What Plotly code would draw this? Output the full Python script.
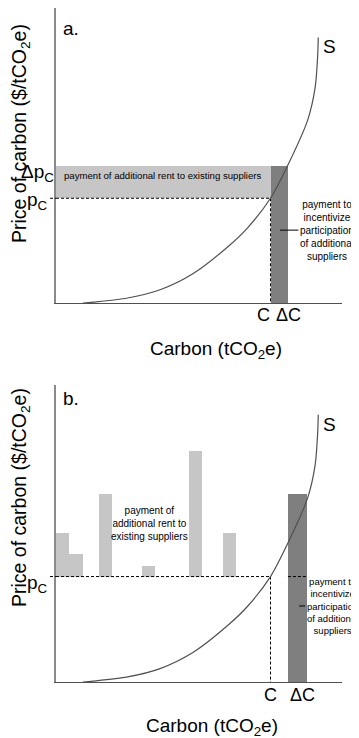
import plotly.graph_objects as go

# page is 359x738; the browser's default 8px body margin offsets the figure
OFF = 8
PW, PH = 359, 738
W, H = PW - OFF, PH - OFF

# ---- data (axis units 0-100 on both axes) ----
# supply curve S, same shape in both panels
curve_x = [9.4, 13, 25, 36.4, 48, 60, 67, 75, 81, 88, 90.6, 91.5, 91.7]
curve_y = [0, 0.3, 1.7, 4.5, 10, 19, 25.5, 35.5, 46.6, 62, 73, 84, 90]

C = 75          # carbon supplied at price pc
dC = 6.1        # additional carbon (panel a)
pc = 35.5       # carbon price
dpc = 11.1      # price increase (panel a)

# panel b: heterogeneous rent paid to existing suppliers
rent_left = [0, 4.5, 15.0, 30.1, 46.5, 58.4]
rent_right = [4.5, 9.4, 19.6, 34.6, 51.0, 62.9]
rent_top = [50.2, 43.1, 63.3, 39.1, 77.8, 50.2]
add_left_b, add_right_b, add_top_b = 81.1, 87.8, 63.3

x_tick_text = ["C", "ΔC"]

LIGHT = "#c6c6c6"
DARK = "#7f7f7f"
CURVE = "#505050"
FONT = "Liberation Sans, Arial, sans-serif"
NARROW = "Liberation Sans Narrow, Liberation Sans, Arial, sans-serif"


def fx(x):
    return min(1.0, max(0.0, (x - OFF) / W))


def fy(y):
    return min(1.0, max(0.0, 1 - (y - OFF) / H))


fig = go.Figure()

# ---------- panel a ----------
fig.add_trace(go.Bar(x=[C / 2], y=[dpc], base=[pc], width=[C], marker=dict(color=LIGHT, line=dict(width=0)),
                     xaxis="x", yaxis="y", opacity=1))
fig.add_trace(go.Bar(x=[C + dC / 2], y=[pc + dpc], base=[0], width=[dC], marker=dict(color=DARK, line=dict(width=0)),
                     xaxis="x", yaxis="y", opacity=1))
fig.add_trace(go.Scatter(x=[0, C, None, C, C], y=[pc, pc, None, pc, 0], mode="lines",
                         line=dict(color="black", width=1, dash="3px,2px"), xaxis="x", yaxis="y"))
fig.add_trace(go.Scatter(x=curve_x, y=curve_y, mode="lines",
                         line=dict(color=CURVE, width=1.2, shape="spline", smoothing=0.8),
                         xaxis="x", yaxis="y"))

# ---------- panel b ----------
fig.add_trace(go.Bar(x=[(l + r) / 2 for l, r in zip(rent_left, rent_right)],
                     y=[t - pc for t in rent_top], base=[pc] * len(rent_top),
                     width=[r - l for l, r in zip(rent_left, rent_right)],
                     marker=dict(color=LIGHT, line=dict(width=0)), xaxis="x2", yaxis="y2", opacity=1))
fig.add_trace(go.Bar(x=[(add_left_b + add_right_b) / 2], y=[add_top_b], base=[0], width=[add_right_b - add_left_b],
                     marker=dict(color=DARK, line=dict(width=0)), xaxis="x2", yaxis="y2", opacity=1))
fig.add_trace(go.Scatter(x=[0, C, None, C, C, None, add_left_b, add_right_b], y=[pc, pc, None, pc, 0, None, pc, pc],
                         mode="lines", line=dict(color="black", width=1, dash="3px,2px"), xaxis="x2", yaxis="y2"))
fig.add_trace(go.Scatter(x=curve_x, y=curve_y, mode="lines",
                         line=dict(color=CURVE, width=1.2, shape="spline", smoothing=0.8),
                         xaxis="x2", yaxis="y2"))

xdom = [fx(56), fx(342)]
ax_common = dict(showgrid=False, zeroline=False, showticklabels=False, ticks="", range=[0, 100], fixedrange=True)

fig.update_layout(
    width=W, height=H, margin=dict(l=0, r=0, t=0, b=0),
    paper_bgcolor="white", plot_bgcolor="white", showlegend=False, barmode="overlay", bargap=0,
    xaxis=dict(domain=xdom, anchor="y", showline=True, linecolor="#505050", linewidth=1.2, **ax_common),
    yaxis=dict(domain=[fy(303), fy(8)], anchor="x", showline=True, linecolor="#8a8a8a", linewidth=1.5, **ax_common),
    xaxis2=dict(domain=xdom, anchor="y2", showline=True, linecolor="#505050", linewidth=1.2, **ax_common),
    yaxis2=dict(domain=[fy(682), fy(385)], anchor="x2", showline=True, linecolor="#8a8a8a", linewidth=1.5, **ax_common),
)

# small dashed stubs to the left of the y-axis at pc
for yref in ["y", "y2"]:
    fig.add_shape(type="line", xref="paper", yref=yref, x0=fx(50), x1=fx(56), y0=pc, y1=pc,
                  line=dict(color="black", width=1, dash="3px,2px"))

ann = []


def text(x, y, s, size, xanchor="center", yanchor="middle", font=FONT, **kw):
    ann.append(dict(x=fx(x), y=fy(y), xref="paper", yref="paper", text=s, showarrow=False, xanchor=xanchor,
                    yanchor=yanchor, font=dict(family=font, size=size, color="black"), **kw))


# panel a labels
text(61, 28, "a.", 19, xanchor="left")
text(329, 47, "S", 19)
text(56, 173, "Δp<sub>C</sub>", 19, xanchor="right")
text(50, 201, "p<sub>C</sub>", 19, xanchor="right")
text(263, 315, x_tick_text[0], 18)
text(288, 315, x_tick_text[1], 18)
text(216, 350, "Carbon (tCO<sub>2</sub>e)", 19)
text(20, 134, "Price of carbon ($/tCO<sub>2</sub>e)", 19.5, textangle=-90)
text(62, 176, "payment of additional rent to existing suppliers", 9.6, xanchor="left", font=NARROW)

# panel b labels
text(61, 398, "b.", 19, xanchor="left")
text(329, 424, "S", 19)
text(50, 584, "p<sub>C</sub>", 19, xanchor="right")
text(270, 695, x_tick_text[0], 18)
text(302, 695, x_tick_text[1], 18)
text(212, 727, "Carbon (tCO<sub>2</sub>e)", 19)
text(20, 498, "Price of carbon ($/tCO<sub>2</sub>e)", 19.5, textangle=-90)
text(149, 523, "payment of<br>additional rent to<br>existing suppliers", 10, font=NARROW)

# leader-line annotations for the additional suppliers
side = "payment to<br>incentivize<br>participation<br>of additional<br>suppliers"
ann.append(dict(x=78.3, y=24.7, xref="x", yref="y", text=side, showarrow=True, arrowhead=0, arrowwidth=1,
                arrowcolor="black", ax=47, ay=0, xanchor="center", yanchor="middle",
                font=dict(family=NARROW, size=10, color="black")))
ann.append(dict(x=85.0, y=25.6, xref="x2", yref="y2", text=side, showarrow=True, arrowhead=0, arrowwidth=1,
                arrowcolor="black", ax=33, ay=0, xanchor="center", yanchor="middle",
                font=dict(family=NARROW, size=9.5, color="black")))

fig.update_layout(annotations=ann)
fig.write_html("out.html")
